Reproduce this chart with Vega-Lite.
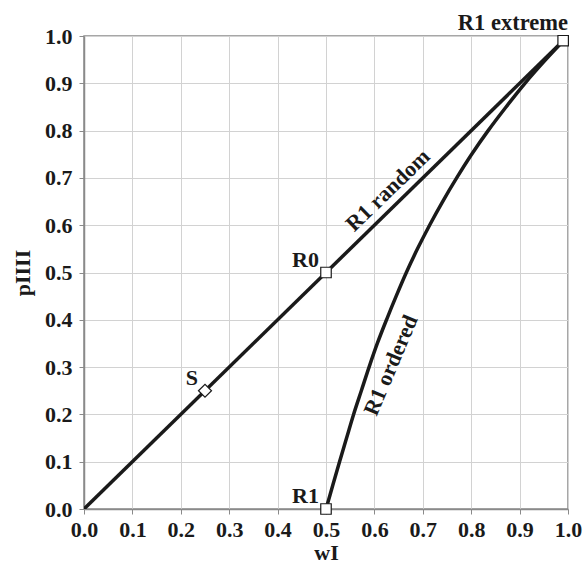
{
  "$schema": "https://vega.github.io/schema/vega-lite/v6.json",
  "autosize": "none",
  "width": 484,
  "height": 473,
  "padding": {"left": 84, "top": 36, "right": 16, "bottom": 59},
  "background": "white",
  "config": {
    "font": "Liberation Serif",
    "view": {"stroke": "#8a8a8a", "strokeWidth": 1.5},
    "axis": {
      "labelFont": "Liberation Serif",
      "labelFontSize": 22,
      "labelFontWeight": "bold",
      "labelColor": "#1a1a1a",
      "labelFlush": false,
      "labelOverlap": false,
      "titleFont": "Liberation Serif",
      "titleFontSize": 22,
      "titleFontWeight": "bold",
      "titleColor": "#1a1a1a",
      "domainColor": "#8a8a8a",
      "domainWidth": 1.5,
      "tickColor": "#8a8a8a",
      "tickSize": 5,
      "gridColor": "#d2d2d2",
      "gridWidth": 1
    }
  },
  "datasets": {
    "curves": [
      {"series": "random", "w": 0, "p": 0},
      {"series": "random", "w": 1, "p": 1},
      {"series": "ordered", "w": 0.5, "p": 0},
      {"series": "ordered", "w": 0.514, "p": 0.05},
      {"series": "ordered", "w": 0.528, "p": 0.1},
      {"series": "ordered", "w": 0.5425, "p": 0.15},
      {"series": "ordered", "w": 0.557, "p": 0.2},
      {"series": "ordered", "w": 0.573, "p": 0.25},
      {"series": "ordered", "w": 0.589, "p": 0.3},
      {"series": "ordered", "w": 0.606, "p": 0.35},
      {"series": "ordered", "w": 0.625, "p": 0.4},
      {"series": "ordered", "w": 0.645, "p": 0.45},
      {"series": "ordered", "w": 0.666, "p": 0.5},
      {"series": "ordered", "w": 0.689, "p": 0.55},
      {"series": "ordered", "w": 0.714, "p": 0.6},
      {"series": "ordered", "w": 0.741, "p": 0.65},
      {"series": "ordered", "w": 0.770, "p": 0.7},
      {"series": "ordered", "w": 0.801, "p": 0.75},
      {"series": "ordered", "w": 0.835, "p": 0.8},
      {"series": "ordered", "w": 0.872, "p": 0.85},
      {"series": "ordered", "w": 0.911, "p": 0.9},
      {"series": "ordered", "w": 0.954, "p": 0.95},
      {"series": "ordered", "w": 1, "p": 1}
    ],
    "points": [
      {"name": "S", "w": 0.25, "p": 0.25, "shape": "diamond"},
      {"name": "R0", "w": 0.5, "p": 0.5, "shape": "square"},
      {"name": "R1", "w": 0.5, "p": 0.0, "shape": "square"},
      {"name": "R1 extreme", "w": 0.99, "p": 0.99, "shape": "square"}
    ]
  },
  "layer": [
    {
      "data": {"name": "curves"},
      "mark": {"type": "line", "color": "#1a1a1a", "strokeWidth": 3.5, "interpolate": "catmull-rom", "clip": true},
      "encoding": {
        "x": {"field": "w", "type": "quantitative", "scale": {"domain": [0, 1], "nice": false}, "axis": {"title": "wI", "values": [0,0.1,0.2,0.3,0.4,0.5,0.6,0.7,0.8,0.9,1], "format": ".1f", "labelPadding": 5, "titlePadding": 2}},
        "y": {"field": "p", "type": "quantitative", "scale": {"domain": [0, 1], "nice": false}, "axis": {"title": "pIIII", "values": [0,0.1,0.2,0.3,0.4,0.5,0.6,0.7,0.8,0.9,1], "format": ".1f", "labelPadding": 7, "titlePadding": 10}},
        "detail": {"field": "series"},
        "order": {"field": "p", "type": "quantitative"}
      }
    },
    {
      "data": {"name": "points"},
      "transform": [{"filter": "datum.shape == 'square'"}],
      "mark": {"type": "point", "shape": "square", "filled": true, "fill": "white", "stroke": "#1a1a1a", "strokeWidth": 1.2, "size": 110, "opacity": 1},
      "encoding": {
        "x": {"field": "w", "type": "quantitative"},
        "y": {"field": "p", "type": "quantitative"}
      }
    },
    {
      "data": {"name": "points"},
      "transform": [{"filter": "datum.shape == 'diamond'"}],
      "mark": {"type": "point", "shape": "diamond", "filled": true, "fill": "white", "stroke": "#1a1a1a", "strokeWidth": 1.2, "size": 170, "opacity": 1},
      "encoding": {
        "x": {"field": "w", "type": "quantitative"},
        "y": {"field": "p", "type": "quantitative"}
      }
    },
    {
      "data": {"name": "points"},
      "transform": [{"filter": "datum.name != 'R1 extreme'"}],
      "mark": {"type": "text", "align": "right", "baseline": "alphabetic", "dx": -7, "dy": -6, "fontSize": 22, "fontWeight": "bold", "color": "#1a1a1a"},
      "encoding": {
        "x": {"field": "w", "type": "quantitative"},
        "y": {"field": "p", "type": "quantitative"},
        "text": {"field": "name"}
      }
    },
    {
      "data": {"values": [{"w": 1, "p": 1, "label": "R1 extreme"}]},
      "mark": {"type": "text", "align": "right", "baseline": "alphabetic", "dy": -6, "fontSize": 22.5, "fontWeight": "bold", "color": "#1a1a1a"},
      "encoding": {
        "x": {"field": "w", "type": "quantitative"},
        "y": {"field": "p", "type": "quantitative"},
        "text": {"field": "label"}
      }
    },
    {
      "data": {"values": [{"w": 0.628, "p": 0.674, "label": "R1 random"}]},
      "mark": {"type": "text", "align": "center", "baseline": "middle", "angle": -44, "fontSize": 22, "fontWeight": "bold", "color": "#1a1a1a"},
      "encoding": {
        "x": {"field": "w", "type": "quantitative"},
        "y": {"field": "p", "type": "quantitative"},
        "text": {"field": "label"}
      }
    },
    {
      "data": {"values": [{"w": 0.634, "p": 0.304, "label": "R1 ordered"}]},
      "mark": {"type": "text", "align": "center", "baseline": "middle", "angle": -67, "fontSize": 22, "fontWeight": "bold", "color": "#1a1a1a"},
      "encoding": {
        "x": {"field": "w", "type": "quantitative"},
        "y": {"field": "p", "type": "quantitative"},
        "text": {"field": "label"}
      }
    }
  ]
}
